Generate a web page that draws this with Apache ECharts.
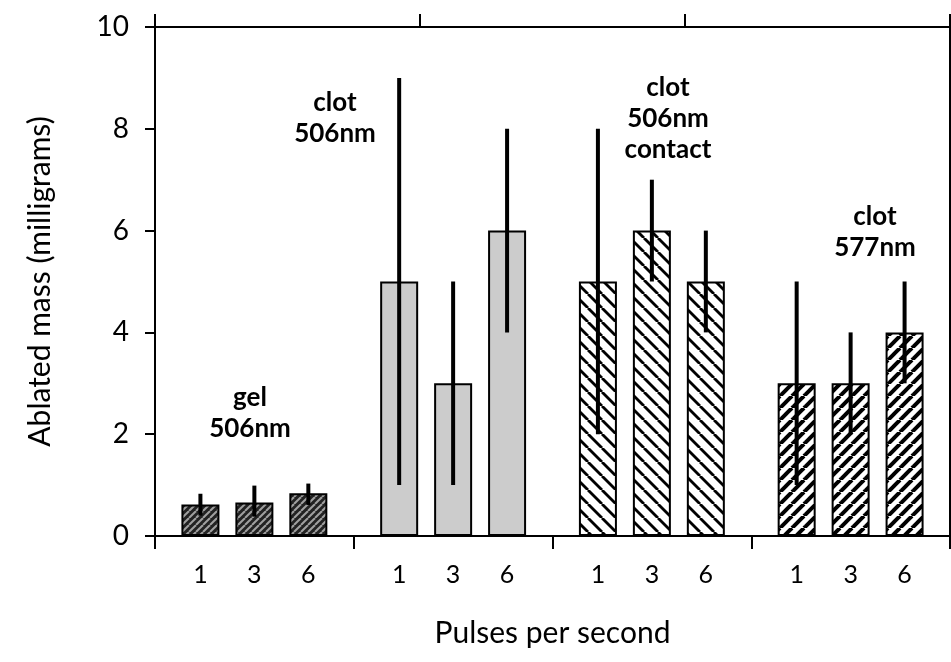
<!DOCTYPE html>
<html>
<head>
<meta charset="utf-8">
<script src="https://cdn.jsdelivr.net/npm/echarts@6/dist/echarts.min.js"></script>
<style>html,body{margin:0;padding:0;background:#fff;}#c{width:951px;height:662px;}</style>
</head>
<body>
<div id="c"></div>
<script>
// ---- data ----
const groups = ['gel 506nm', 'clot 506nm', 'clot 506nm contact', 'clot 577nm'];
const pulseRates = ['1', '3', '6'];
const mass1 = [0.62, 5.0, 5.0, 3.0];
const mass3 = [0.66, 3.0, 6.0, 3.0];
const mass6 = [0.84, 6.0, 5.0, 4.0];
const errLow1 = [0.40, 1.0, 2.0, 1.0];
const errHigh1 = [0.83, 9.0, 8.0, 5.0];
const errLow3 = [0.38, 1.0, 5.0, 2.0];
const errHigh3 = [0.99, 5.0, 7.0, 4.0];
const errLow6 = [0.61, 4.0, 4.0, 3.0];
const errHigh6 = [1.03, 8.0, 6.0, 5.0];
const yTicks = [0, 2, 4, 6, 8, 10];
const groupLabels = ['gel\n506nm', 'clot\n506nm', 'clot\n506nm\ncontact', 'clot\n577nm'];

// ---- styles ----
const FONT = 'Lato, "Open Sans", sans-serif';
function stripes(bg, fg, size, lw, dir) {
  const c = document.createElement('canvas');
  c.width = size; c.height = size;
  const ctx = c.getContext('2d');
  ctx.fillStyle = bg; ctx.fillRect(0, 0, size, size);
  ctx.strokeStyle = fg; ctx.lineWidth = lw;
  for (let k = -1; k <= 1; k++) {
    ctx.beginPath();
    if (dir === '/') { ctx.moveTo(k * size, size); ctx.lineTo(k * size + size, 0); }
    else { ctx.moveTo(k * size, 0); ctx.lineTo(k * size + size, size); }
    ctx.stroke();
  }
  return c;
}
const fills = [
  { image: stripes('#222222', '#a0a0a0', 7, 2, '/'), repeat: 'repeat' },
  '#cccccc',
  { image: stripes('#ffffff', '#000000', 14, 2.8, '\\'), repeat: 'repeat' },
  { image: stripes('#ffffff', '#000000', 12, 4, '/'), repeat: 'repeat' }
];

const BAR_W = 38, BAR_GAP = 0.42;
const massSets = [mass1, mass3, mass6];
const lowSets = [errLow1, errLow3, errLow6];
const highSets = [errHigh1, errHigh3, errHigh6];

const barSeries = pulseRates.map((p, s) => ({
  type: 'bar',
  name: p,
  xAxisIndex: 0, yAxisIndex: 0,
  barWidth: BAR_W,
  barGap: (BAR_GAP * 100) + '%',
  data: massSets[s].map((v, g) => ({ value: v, itemStyle: { color: fills[g] } })),
  itemStyle: { borderColor: '#000', borderWidth: 2 },
  label: {
    show: true, position: 'bottom', distance: 26, formatter: '{a}',
    fontSize: 25, color: '#000', fontFamily: FONT
  },
  z: 2
}));

const errData = [];
pulseRates.forEach((p, s) => {
  groups.forEach((g, gi) => errData.push([gi, s, lowSets[s][gi], highSets[s][gi]]));
});

const errSeries = {
  type: 'custom',
  xAxisIndex: 0, yAxisIndex: 0,
  data: errData,
  encode: { x: 0, y: 3 },
  z: 5,
  renderItem: function (params, api) {
    const g = api.value(0), s = api.value(1);
    const lo = api.coord([g, api.value(2)]);
    const hi = api.coord([g, api.value(3)]);
    const off = (s - 1) * BAR_W * (1 + BAR_GAP);
    const x = lo[0] + off;
    return {
      type: 'line',
      shape: { x1: x, y1: lo[1], x2: x, y2: hi[1] },
      style: { stroke: '#000', lineWidth: 4 }
    };
  }
};

const axisLine = { show: true, onZero: false, lineStyle: { color: '#000', width: 2 } };
const tickStyle = { color: '#000', width: 2 };

const chart = echarts.init(document.getElementById('c'), null, { renderer: 'canvas' });
const annPos = [[250, 413], [335, 118], [668, 119], [875, 232]];
chart.setOption({
  animation: false,
  backgroundColor: '#fff',
  grid: { left: 155, right: 1, top: 27, bottom: 126, containLabel: false },
  xAxis: [
    {
      type: 'category', data: groups, position: 'bottom', boundaryGap: true,
      axisLine: axisLine,
      axisTick: { show: true, inside: false, length: 13, lineStyle: tickStyle },
      axisLabel: { show: false },
      splitLine: { show: false },
      name: 'Pulses per second', nameLocation: 'middle', nameGap: 82,
      nameTextStyle: { fontSize: 30, color: '#000', fontFamily: FONT }
    },
    {
      type: 'value', min: 0, max: 3, interval: 1, position: 'top',
      axisLine: axisLine,
      axisTick: { show: true, inside: false, length: 13, lineStyle: tickStyle },
      axisLabel: { show: false },
      splitLine: { show: false }
    }
  ],
  yAxis: [
    {
      type: 'value', min: yTicks[0], max: yTicks[yTicks.length - 1], interval: 2, position: 'left',
      axisLine: axisLine,
      axisTick: { show: true, inside: false, length: 10, lineStyle: tickStyle },
      axisLabel: { fontSize: 28, color: '#000', fontFamily: FONT, margin: 26 },
      splitLine: { show: false },
      name: 'Ablated mass (milligrams)', nameLocation: 'middle', nameGap: 100, nameRotate: 90,
      nameTextStyle: { fontSize: 30, color: '#000', fontFamily: FONT }
    },
    {
      type: 'value', min: 0, max: 10, position: 'right',
      axisLine: axisLine, axisTick: { show: false }, axisLabel: { show: false },
      splitLine: { show: false }
    }
  ],
  graphic: groupLabels.map((t, i) => ({
    type: 'text', x: annPos[i][0], y: annPos[i][1], z: 10,
    style: {
      text: t, align: 'center', verticalAlign: 'middle',
      font: 'bold 26px ' + FONT, lineHeight: 31, fill: '#000'
    }
  })),
  series: barSeries.concat([errSeries])
});
</script>
</body>
</html>
